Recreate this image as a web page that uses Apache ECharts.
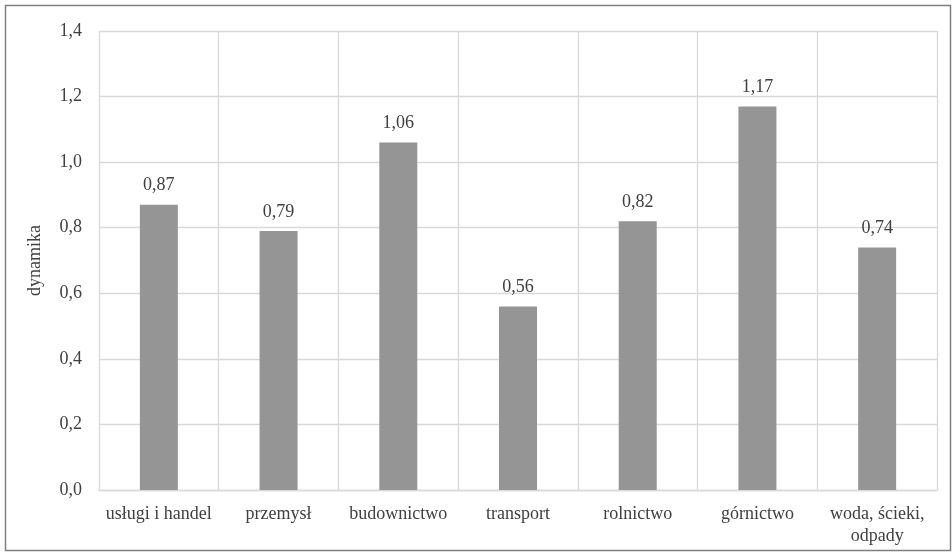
<!DOCTYPE html>
<html>
<head>
<meta charset="utf-8">
<script src="https://cdn.jsdelivr.net/npm/echarts@6/dist/echarts.min.js"></script>
<style>
html,body{margin:0;padding:0;background:#fff;}
#chart{width:952px;height:552px;}
</style>
</head>
<body>
<div id="chart"></div>
<script>
const categories = ['usługi i handel', 'przemysł', 'budownictwo', 'transport', 'rolnictwo', 'górnictwo', 'woda, ścieki,\nodpady'];
const values = [0.87, 0.79, 1.06, 0.56, 0.82, 1.17, 0.74];
const yTicks = [0, 0.2, 0.4, 0.6, 0.8, 1.0, 1.2, 1.4];
const axisName = 'dynamika';

const font = "'Liberation Serif', 'Times New Roman', serif";
const textColor = '#404040';
const chart = echarts.init(document.getElementById('chart'), null, {renderer: 'canvas'});
chart.setOption({
  animation: false,
  backgroundColor: '#fff',
  graphic: [{
    type: 'rect',
    shape: {x: 5.5, y: 5.5, width: 945, height: 545},
    style: {fill: 'none', stroke: '#7f7f7f', lineWidth: 1.5},
    silent: true
  }],
  grid: {left: 99, right: 15, top: 31, bottom: 62},
  xAxis: {
    type: 'category',
    data: categories,
    axisLine: {show: true, lineStyle: {color: '#d9d9d9', width: 1.3}},
    axisTick: {show: false},
    splitLine: {show: true, lineStyle: {color: '#d9d9d9', width: 1.3}},
    axisLabel: {
      color: textColor, fontFamily: font, fontSize: 18, margin: 13,
      lineHeight: 22, interval: 0
    }
  },
  yAxis: {
    type: 'value',
    min: yTicks[0],
    max: yTicks[yTicks.length - 1],
    interval: 0.2,
    name: axisName,
    nameLocation: 'middle',
    nameRotate: 90,
    nameGap: 55,
    nameTextStyle: {color: textColor, fontFamily: font, fontSize: 18},
    axisLine: {show: false},
    axisTick: {show: false},
    splitLine: {show: true, lineStyle: {color: '#d9d9d9', width: 1.3}},
    axisLabel: {
      color: textColor, fontFamily: font, fontSize: 18, margin: 17,
      formatter: v => v.toFixed(1).replace('.', ',')
    }
  },
  series: [{
    type: 'bar',
    data: values,
    barWidth: 38,
    itemStyle: {color: '#959595'},
    label: {
      show: true, position: 'top', distance: 10,
      color: textColor, fontFamily: font, fontSize: 18,
      formatter: p => p.value.toFixed(2).replace('.', ',')
    }
  }]
});
</script>
</body>
</html>
